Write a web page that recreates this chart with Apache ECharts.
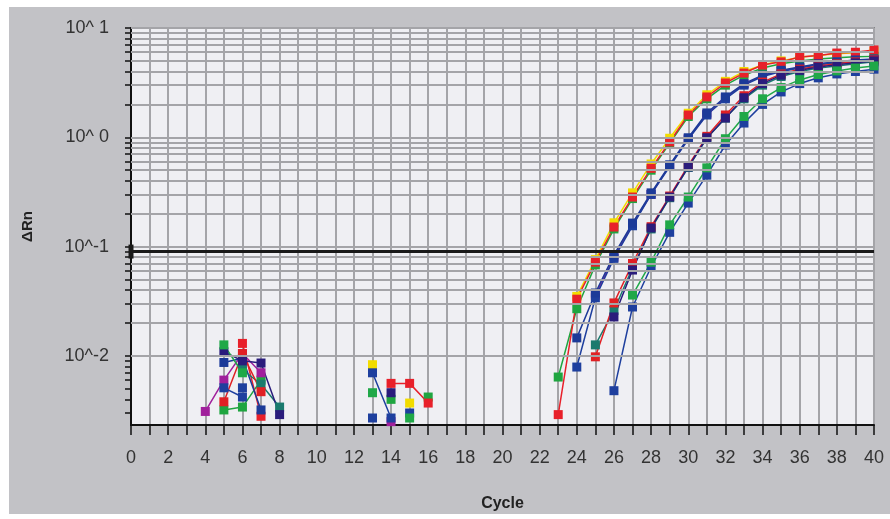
<!DOCTYPE html>
<html>
<head>
<meta charset="utf-8">
<script src="https://cdn.jsdelivr.net/npm/echarts@6/dist/echarts.min.js"></script>
<style>
html,body{margin:0;padding:0;background:#fff;}
#main{width:890px;height:519px;}
</style>
</head>
<body>
<div id="main"></div>
<script>
// cycle numbers 0..40 (x axis)
var cycles = [0,1,2,3,4,5,6,7,8,9,10,11,12,13,14,15,16,17,18,19,20,
              21,22,23,24,25,26,27,28,29,30,31,32,33,34,35,36,37,38,39,40];
var yLabelValues = [0.01, 0.1, 1, 10];
var threshold = 0.085;

// delta Rn per cycle, null = not plotted (below zero on the log scale)
var redA = [null,null,null,null,null,null,0.013,0.0028,null,null,
            null,null,null,null,0.0056,0.0056,0.0037,null,null,null,
            null,null,null,0.0029,0.033,0.072,0.151,0.284,0.52,0.906,
            1.6,2.34,3.14,3.87,4.58,4.9,5.43,5.6,5.9,6.0,6.3];
var yellowA = [null,null,null,null,null,null,null,null,null,null,
            null,null,null,0.0083,null,0.0037,null,null,null,null,
            null,null,null,null,0.035,0.076,0.165,0.31,0.57,0.98,
            1.66,2.45,3.25,4.0,4.6,5.0,5.4,5.6,5.8,5.95,6.1];
var greenA = [null,null,null,null,null,0.0032,0.0034,0.0060,null,null,
            null,null,null,null,0.0040,null,0.0042,null,null,null,
            null,null,null,0.0064,0.027,0.068,0.145,0.275,0.50,0.88,
            1.55,2.25,3.0,3.7,4.3,4.7,5.0,5.2,5.35,5.45,5.5];
var blueB1 = [null,null,null,null,null,0.0087,0.0095,0.0032,null,null,
            null,null,null,null,null,null,null,null,null,null,
            null,null,null,null,0.0146,0.0376,0.084,0.164,0.31,0.56,
            0.99,1.67,2.34,3.1,3.7,4.1,4.4,4.7,4.9,5.1,5.2];
var blueB2 = [null,null,null,null,null,null,0.0051,null,null,null,
            null,null,null,0.0070,0.0027,null,null,null,null,null,
            null,null,null,null,0.0079,0.034,0.078,0.155,0.30,0.54,
            0.96,1.6,2.25,3.0,3.6,4.0,4.3,4.6,4.8,5.0,5.1];
var magenta = [null,null,null,null,0.0031,0.0060,0.0105,0.0070,null,null,
            null,null,null,null,0.0025,null,null,null,null,null,
            null,null,null,null,null,0.036,0.08,0.16,0.30,0.55,
            0.97,1.62,2.3,3.05,3.65,4.05,4.35,4.65,4.85,5.05,5.15];
var navyC = [null,null,null,null,null,0.0109,0.0090,0.0086,0.0029,null,
            null,null,null,null,0.0046,null,null,null,null,null,
            null,null,null,null,null,null,0.0227,0.061,0.148,0.284,
            0.535,0.99,1.5,2.3,3.1,3.7,4.1,4.4,4.6,4.8,5.0];
var redC = [null,null,null,null,null,0.0038,0.0105,0.0047,null,null,
            null,null,null,null,null,null,null,null,null,null,
            null,null,null,null,null,0.0098,0.0305,0.07,0.152,0.29,
            0.55,1.02,1.6,2.4,3.2,3.8,4.2,4.5,4.7,4.9,5.1];
var tealC = [null,null,null,null,null,null,0.0075,0.0055,0.0034,null,
            null,null,null,null,null,null,null,null,null,null,
            null,null,null,null,null,0.0126,0.026,0.064,0.145,0.28,
            0.53,0.98,1.5,2.25,3.0,3.6,4.0,4.3,4.5,4.7,4.9];
var greenD = [null,null,null,null,null,0.0126,0.0070,null,null,null,
            null,null,null,0.0046,null,0.0027,null,null,null,null,
            null,null,null,null,null,null,null,0.036,0.072,0.158,
            0.284,0.525,0.97,1.55,2.25,2.85,3.35,3.75,4.05,4.3,4.5];
var blueD = [null,null,null,null,null,0.0051,0.0042,null,null,null,
            null,null,null,0.0027,null,0.0030,null,null,null,null,
            null,null,null,null,null,null,0.0048,0.028,0.065,0.135,
            0.25,0.45,0.85,1.35,2.0,2.6,3.1,3.5,3.8,4.0,4.2];

var yMin = 0.00233, yMax = 10;

// log grid lines 1..9 x 10^k inside the range
var gridVals = [];
for (var k = -3; k <= 1; k++) {
    for (var m = 1; m <= 9; m++) {
        var v = +(m * Math.pow(10, k)).toPrecision(3);
        if (v >= yMin && v <= yMax) gridVals.push(v);
    }
}

function pairs(arr){
    return cycles.map(function(c, i){ return [c, arr[i] == null ? null : arr[i]]; });
}

function wellSeries(name, arr, color){
    return {
        name: name,
        type: 'line',
        data: pairs(arr),
        connectNulls: false,
        symbol: 'rect',
        symbolSize: 9,
        showSymbol: true,
        z: 3,
        animation: false,
        lineStyle: {color: color, width: 1.5},
        itemStyle: {color: color, borderWidth: 0}
    };
}

var myChart = echarts.init(document.getElementById('main'));

var option = {
    backgroundColor: '#ffffff',
    animation: false,
    graphic: [{
        type: 'rect',
        z: -10,
        shape: {x: 9, y: 7, width: 881, height: 507},
        style: {fill: '#c2c2c6'}
    }],
    grid: {
        left: 131, right: 16, top: 28, bottom: 94,
        show: true,
        backgroundColor: '#efeff3',
        borderColor: '#555',
        borderWidth: 1.5
    },
    xAxis: {
        type: 'value',
        min: 0, max: 40, interval: 1,
        name: 'Cycle',
        nameLocation: 'middle',
        nameGap: 71,
        nameTextStyle: {fontFamily: 'Liberation Sans', fontWeight: 'bold', fontSize: 16, color: '#222'},
        axisLine: {lineStyle: {color: '#111', width: 2}},
        axisTick: {length: 10, lineStyle: {color: '#111', width: 1.5}},
        axisLabel: {
            margin: 24,
            fontFamily: 'Liberation Sans',
            fontSize: 18,
            color: '#333',
            formatter: function(v){ return v % 2 === 0 ? String(v) : ''; }
        },
        splitLine: {show: true, lineStyle: {color: '#a4a4a8', width: 2}}
    },
    yAxis: {
        type: 'log',
        logBase: 10,
        min: yMin, max: yMax,
        name: 'ΔRn',
        nameLocation: 'middle',
        nameGap: 96,
        nameRotate: 90,
        nameTextStyle: {fontFamily: 'Liberation Sans', fontWeight: 'bold', fontSize: 15, color: '#222'},
        axisLine: {show: true, lineStyle: {color: '#111', width: 2}},
        axisTick: {show: true, length: 6, customValues: gridVals, lineStyle: {color: '#111', width: 1.5}},
        axisLabel: {
            margin: 22,
            customValues: yLabelValues,
            fontFamily: 'Liberation Sans',
            fontSize: 18,
            color: '#333',
            formatter: function(v){
                var e = Math.round(Math.log(v) / Math.LN10);
                return '10^' + (e < 0 ? String(e) : ' ' + e);
            }
        },
        splitLine: {show: false}
    },
    series: [
        {
            name: 'grid',
            type: 'line',
            data: [],
            z: 1,
            silent: true,
            markLine: {
                silent: true,
                symbol: 'none',
                label: {show: false},
                animation: false,
                lineStyle: {color: '#a4a4a8', width: 2, type: 'solid'},
                data: gridVals.map(function(v){ return {yAxis: v}; })
            }
        },
        {
            name: 'threshold',
            type: 'line',
            data: [],
            z: 2,
            silent: true,
            markLine: {
                silent: true,
                symbol: ['rect', 'none'],
                symbolSize: [14, 5],
                label: {show: false},
                animation: false,
                lineStyle: {color: '#1a1a1a', width: 3, type: 'solid'},
                itemStyle: {color: '#1a1a1a'},
                data: [{yAxis: threshold}]
            }
        },
        wellSeries('yellowA', yellowA, '#f2dc00'),
        wellSeries('greenA', greenA, '#1fa540'),
        wellSeries('redA', redA, '#e8202a'),
        wellSeries('magenta', magenta, '#a0209c'),
        wellSeries('blueB2', blueB2, '#1e3f9e'),
        wellSeries('blueB1', blueB1, '#1c3a98'),
        wellSeries('tealC', tealC, '#1a7a6e'),
        wellSeries('redC', redC, '#e02024'),
        wellSeries('navyC', navyC, '#2a1c7c'),
        wellSeries('blueD', blueD, '#1e3f9e'),
        wellSeries('greenD', greenD, '#20a848')
    ]
};
myChart.setOption(option);
</script>
</body>
</html>
